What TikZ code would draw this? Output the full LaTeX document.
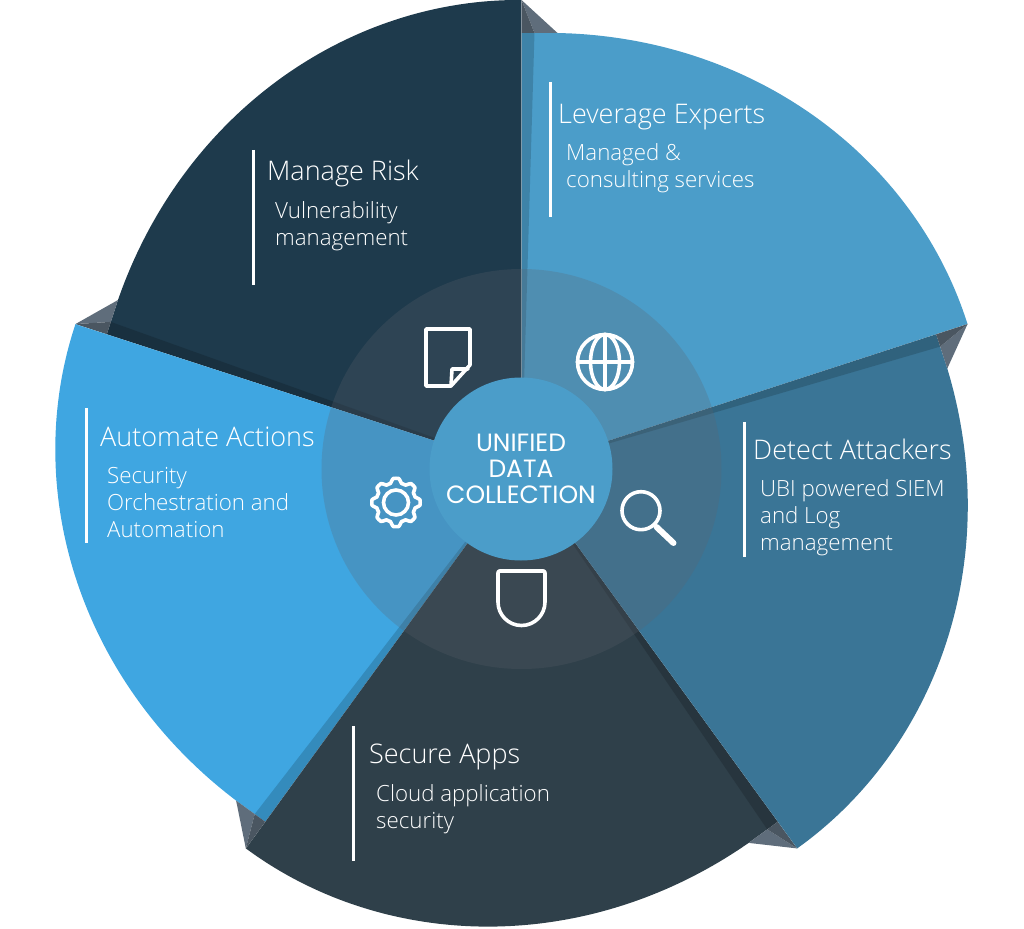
\documentclass[tikz,border=0pt]{standalone}
\usepackage{fontspec}
\setmainfont{Open Sans Light}
\newfontfamily\hubfont{Poppins}
\definecolor{foldlight}{HTML}{5F6D7B}
\definecolor{folddark}{HTML}{4A5661}
\definecolor{halocol}{HTML}{5E626C}
\definecolor{hubcol}{HTML}{4B9DC9}
\definecolor{expertscol}{HTML}{4B9DC9}
\definecolor{riskcol}{HTML}{1E3A4C}
\definecolor{actionscol}{HTML}{3FA6E1}
\definecolor{appscol}{HTML}{2F404A}
\definecolor{attackcol}{HTML}{3A7596}
\tikzset{
  TitleLbl/.style={right,inner sep=0pt,text=white,font=\fontsize{27}{29}\selectfont},
  BodyLbl/.style={below right,inner sep=0pt,text=white,align=left,font=\fontsize{22.3}{27}\selectfont},
  Bar/.style={white,line width=3pt},
  IconLine/.style={white,line width=3.6pt,line join=round,line cap=round}}

\begin{document}
\begin{tikzpicture}[x=1pt,y=1pt]
  \def\Rfold{437.5}
  \def\Rtip{469}
  \def\Ystrip{436}
  \def\Rhalo{200}
  \def\Rhub{91.5}
  \useasboundingbox (-521.5,-459) rectangle (502.5,469);

  % SECTORS
  \foreach \rot/\col in {0/expertscol,72/riskcol,144/actionscol,216/appscol,288/attackcol}{
    \begin{scope}[rotate=\rot]
      \fill[\col] (0,0) -- (0,\Ystrip) -- (36,\Ystrip)
        -- plot[domain=0:1,samples=40,smooth] ({85.3-67.3*\x}:{\Rfold+31.5*\x+36*\x*\x*(1-\x)}) -- cycle;
      \fill[black,opacity=0.16] (0,0) -- (0,\Ystrip) -- (13,\Ystrip) -- cycle;
      \fill[foldlight] (0,\Rtip) -- (36,\Ystrip) -- (13,\Ystrip) -- cycle;
      \fill[folddark] (0,\Rtip) -- (13,\Ystrip) -- (0,\Ystrip) -- cycle;
    \end{scope}
  }

  % CENTRE
  \fill[halocol,opacity=0.25] (0,0) circle (\Rhalo);
  \node[circle,fill=hubcol,minimum size=2*\Rhub,inner sep=0pt,text=white,align=center,
        font=\hubfont\fontsize{25}{25.8}\selectfont] (hub) at (-0.5,0) {UNIFIED\\DATA\\COLLECTION};

  % LABELS
  \foreach \name/\bx/\by/\hx/\hy/\tx/\ty/\head/\body in {
    risk/-267.5/319/-254.5/296/-246.5/268/Manage Risk/{Vulnerability\\management},
    experts/28.5/387/36.5/352/44.5/326/Leverage Experts/{Managed \&\\consulting services},
    actions/-435/61/-421.5/32/-414.5/2/Automate Actions/{Security\\Orchestration and\\Automation},
    attack/222.5/47/231.5/20/238.5/-10/Detect Attackers/{UBI powered SIEM\\and Log\\management},
    apps/-167.5/-257/-152.5/-288/-145.5/-315/Secure Apps/{Cloud application\\security}}{
    \draw[Bar] (\bx,\by) -- +(0,-135);
    \node[TitleLbl] (\name head) at (\hx,\hy) {\head};
    \node[BodyLbl] (\name body) at (\tx,\ty) {\body};
  }

  % ICONS
  \draw[IconLine] (-95.5,140) -- (-51.5,140) -- (-51.5,104) -- (-70.5,83) -- (-95.5,83) -- cycle;
  \draw[IconLine] (-70.5,83) -- (-69.5,100) -- (-53.5,100);
  \draw[IconLine] (83.5,107) circle (27.5);
  \draw[IconLine] (83.5,134.5) -- (83.5,79.5) (56,107) -- (111,107);
  \draw[IconLine] (83.5,107) ellipse (14.5 and 27.5);
  \draw[IconLine] (119.5,-41.7) circle (19);
  \draw[line width=6pt,white,line cap=round] (135,-58) -- (152,-74);
  \draw[IconLine] (-22,-102) -- (22,-102) to[out=0,in=90] (23.5,-104) -- (23.5,-133)
     arc[start angle=0,end angle=-180,radius=23.5] -- (-23.5,-104) to[out=90,in=180] cycle;
  \draw[IconLine] (-125.5,-33.5) circle (12.5);
  \draw[IconLine,shift={(-125.5,-33.5)}] plot[domain=0:360,samples=241,smooth]
     (\x:{22+2.2*max(-1,min(1,1.6*cos(8*\x)))}) -- cycle;
\end{tikzpicture}
\end{document}
